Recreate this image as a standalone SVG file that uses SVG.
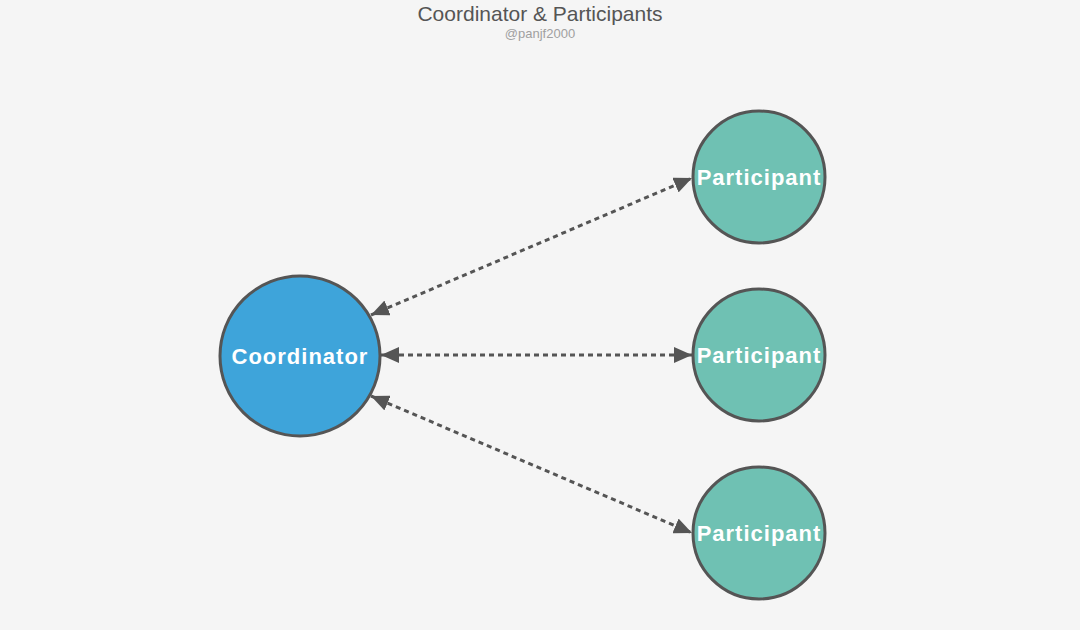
<svg xmlns="http://www.w3.org/2000/svg" width="1080" height="630" viewBox="0 0 1080 630">
<style>
.title{font-family:"Liberation Sans",Arial,sans-serif;font-size:21px;fill:#555;text-anchor:middle}
.sub{font-family:"Liberation Sans",Arial,sans-serif;font-size:13px;fill:#a0a0a0;text-anchor:middle}
.node circle{stroke:#555;stroke-width:3}
.coord circle{fill:#3ea4da}
.part circle{fill:#6fc1b3}
.node text{font-family:"Liberation Sans",Arial,sans-serif;font-weight:bold;font-size:22px;letter-spacing:1px;fill:#fff;text-anchor:middle}
.conn line{stroke:#555;stroke-width:3;stroke-dasharray:5 4;fill:none}
</style>
<defs>
<marker id="ah" viewBox="0 0 18 16" refX="18" refY="8" markerWidth="18" markerHeight="16" markerUnits="userSpaceOnUse" orient="auto-start-reverse">
<path d="M0,0 L18,8 L0,16 Z" fill="#555"/>
</marker>
</defs>
<rect width="1080" height="630" fill="#f5f5f5"/>
<text class="title" x="540" y="21">Coordinator &amp; Participants</text>
<text class="sub" x="540" y="38">@panjf2000</text>
<g id="connectors" class="conn">
<line x1="371" y1="315" x2="692" y2="178" marker-start="url(#ah)" marker-end="url(#ah)"/>
<line x1="381" y1="355" x2="692" y2="355" marker-start="url(#ah)" marker-end="url(#ah)"/>
<line x1="371" y1="396" x2="692" y2="533" marker-start="url(#ah)" marker-end="url(#ah)"/>
</g>
<g id="coordinator" class="node coord">
<circle cx="300" cy="356" r="80"/>
<text x="300" y="364">Coordinator</text>
</g>
<g id="participant1" class="node part">
<circle cx="759" cy="177" r="66"/>
<text x="759" y="185">Participant</text>
</g>
<g id="participant2" class="node part">
<circle cx="759" cy="355" r="66"/>
<text x="759" y="363">Participant</text>
</g>
<g id="participant3" class="node part">
<circle cx="759" cy="533" r="66"/>
<text x="759" y="541">Participant</text>
</g>
</svg>
